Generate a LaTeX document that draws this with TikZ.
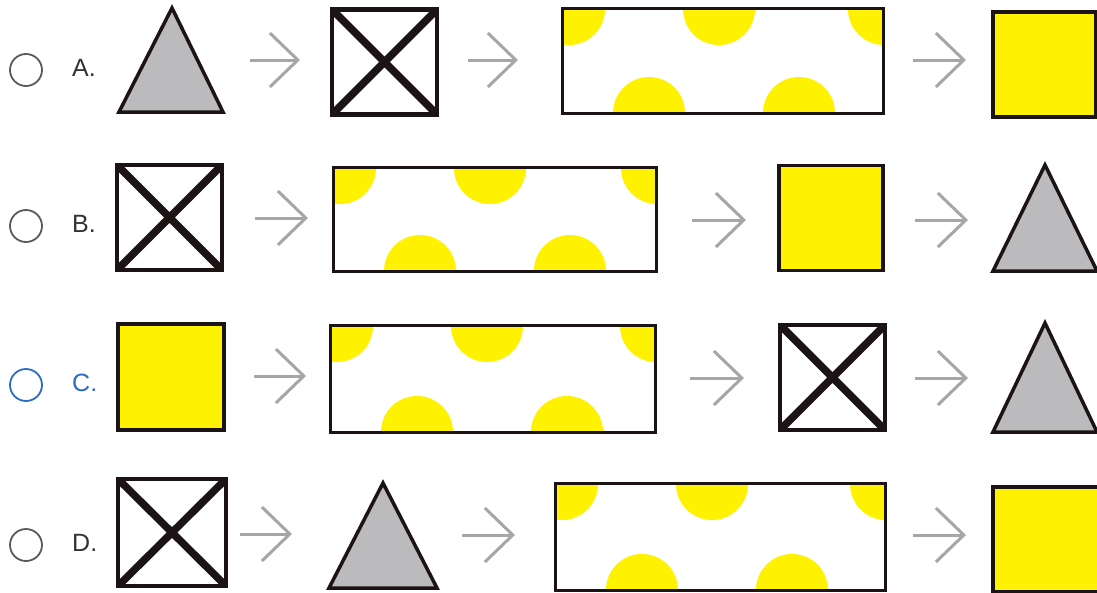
\documentclass[tikz,border=0pt]{standalone}
\usepackage{fontspec}
\setmainfont{Liberation Sans}
\usetikzlibrary{arrows.meta}
\definecolor{ink}{HTML}{1C1414}
\definecolor{yel}{HTML}{FFF200}
\definecolor{trigray}{HTML}{BBBABD}
\definecolor{arrgray}{HTML}{A6A6A6}
\definecolor{optgray}{HTML}{5A5A5A}
\definecolor{labgray}{HTML}{333333}
\definecolor{optblue}{HTML}{2B6CC4}
\tikzset{
  xbox/.style={draw=ink, line width=4.5pt, fill=white, inner sep=0pt,
    minimum width=105pt, minimum height=105pt,
    path picture={\draw[ink, line width=7.5pt]
      (path picture bounding box.north west) -- (path picture bounding box.south east)
      (path picture bounding box.south west) -- (path picture bounding box.north east);}},
  ybox/.style={draw=ink, line width=3.5pt, fill=yel, inner sep=0pt,
    minimum width=104pt, minimum height=105pt},
  dotrect/.style={draw=ink, line width=3pt, fill=white, inner sep=0pt,
    minimum height=105pt,
    path picture={
      \fill[yel] ([xshift=7pt,yshift=-1pt]path picture bounding box.north west) circle[radius=36pt];
      \fill[yel] ([xshift=157pt,yshift=-1pt]path picture bounding box.north west) circle[radius=36pt];
      \fill[yel] ([xshift=1pt,yshift=-1pt]path picture bounding box.north east) circle[radius=36pt];
      \fill[yel] ([xshift=87pt]path picture bounding box.south west) circle[radius=36pt];
      \fill[yel] ([xshift=237pt]path picture bounding box.south west) circle[radius=36pt];}},
  tri/.style={draw=ink, line width=3.5pt, fill=trigray, line join=miter},
  arr/.style={draw=arrgray, line width=3pt,
    -{Straight Barb[length=28pt,width=54pt]}},
  opt/.style={circle, draw=optgray, line width=1.8pt, minimum size=32pt, inner sep=0pt},
  lab/.style={font=\fontsize{25}{29}\selectfont, text=labgray, anchor=west, inner sep=0pt}
}
\begin{document}
\begin{tikzpicture}[x=1pt,y=-1pt]
\fill[white] (0,0) rectangle (1097,592);
\useasboundingbox (0,0) rectangle (1097,592);

% ---------- Row A ----------
\node[opt] (oA) at (26,70) {};
\node[lab] (lA) at (72,68) {A.};
\draw[tri] (119,112) -- (172,8) -- (223,112) -- cycle;
\coordinate (tA) at (171,60);
\node[xbox] (xA) at (384.5,62) {};
\node[dotrect, minimum width=321pt] (dA) at (722.5,60.5) {};
\node[ybox, minimum width=103pt] (yA) at (1044.5,64.5) {};
\coordinate (a1s) at (250,60); \coordinate (a1e) at (300,60);
\coordinate (a2s) at (468,60); \coordinate (a2e) at (518,60);
\coordinate (a3s) at (913,60); \coordinate (a3e) at (966,60);
\draw[arr] (a1s) -- (a1e);
\draw[arr] (a2s) -- (a2e);
\draw[arr] (a3s) -- (a3e);

% ---------- Row B ----------
\node[opt] (oB) at (26,226) {};
\node[lab] (lB) at (72,224) {B.};
\node[xbox] (xB) at (169.5,217.5) {};
\node[dotrect, minimum width=323pt, minimum height=104pt] (dB) at (494.5,219) {};
\node[ybox] (yB) at (831,218) {};
\draw[tri] (993,271) -- (1045,165) -- (1097,271) -- cycle;
\coordinate (tB) at (1045,218);
\coordinate (b1s) at (255,218); \coordinate (b1e) at (308,218);
\coordinate (b2s) at (692,220); \coordinate (b2e) at (746,220);
\coordinate (b3s) at (915,220); \coordinate (b3e) at (968,220);
\draw[arr] (b1s) -- (b1e);
\draw[arr] (b2s) -- (b2e);
\draw[arr] (b3s) -- (b3e);

% ---------- Row C ----------
\node[opt, draw=optblue] (oC) at (26,385) {};
\node[lab, text=optblue] (lC) at (72,383) {C.};
\node[ybox, minimum width=106pt, minimum height=106pt] (yC) at (171,377) {};
\node[dotrect, minimum width=325pt, minimum height=107pt] (dC) at (492.5,378.5) {};
\node[xbox] (xC) at (832.5,377.5) {};
\draw[tri] (993,432) -- (1045,323) -- (1097,432) -- cycle;
\coordinate (tC) at (1045,378);
\coordinate (c1s) at (254,376); \coordinate (c1e) at (306,376);
\coordinate (c2s) at (690,378); \coordinate (c2e) at (744,378);
\coordinate (c3s) at (915,378); \coordinate (c3e) at (968,378);
\draw[arr] (c1s) -- (c1e);
\draw[arr] (c2s) -- (c2e);
\draw[arr] (c3s) -- (c3e);

% ---------- Row D ----------
\node[opt] (oD) at (26,545) {};
\node[lab] (lD) at (72,543) {D.};
\node[xbox, minimum width=108pt, minimum height=107pt] (xD) at (172,532.5) {};
\draw[tri] (329,588) -- (383,483) -- (437,588) -- cycle;
\coordinate (tD) at (383,536);
\node[dotrect, minimum width=330pt, minimum height=107pt] (dD) at (720,536.5) {};
\node[ybox, minimum width=106pt] (yD) at (1046,539.5) {};
\coordinate (d1s) at (240,534); \coordinate (d1e) at (292,534);
\coordinate (d2s) at (462,535); \coordinate (d2e) at (515,535);
\coordinate (d3s) at (913,535); \coordinate (d3e) at (966,535);
\draw[arr] (d1s) -- (d1e);
\draw[arr] (d2s) -- (d2e);
\draw[arr] (d3s) -- (d3e);
\end{tikzpicture}
\end{document}
